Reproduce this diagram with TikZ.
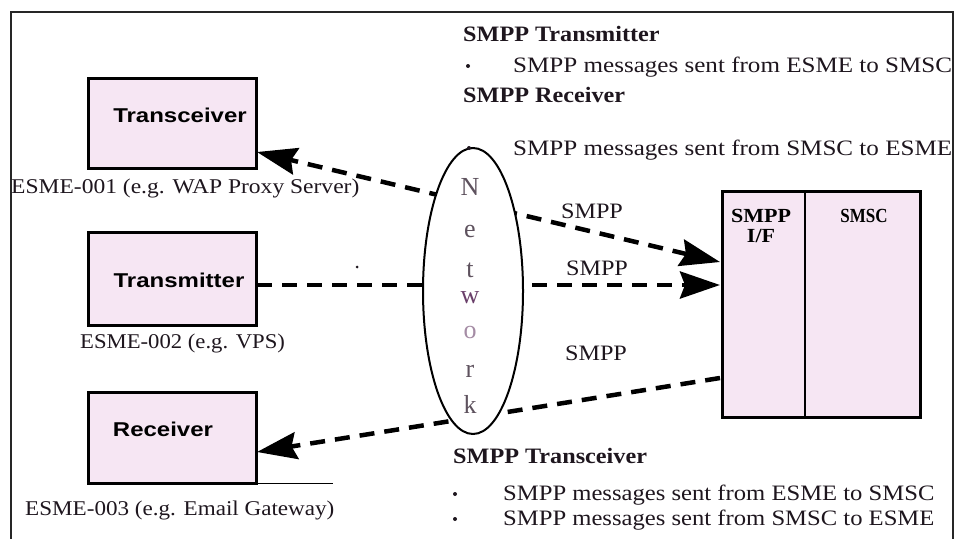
\documentclass[tikz,border=0pt]{standalone}
\usepackage{fontspec}
\setmainfont{Liberation Serif}
\newfontfamily\boxfont{Liberation Sans}
\usetikzlibrary{arrows.meta,shapes.geometric}

\definecolor{esmepink}{HTML}{F6E6F3}
\definecolor{inkdark}{HTML}{1E161E}
\definecolor{netgray}{HTML}{5E525E}
\definecolor{netpurple}{HTML}{6A3F6A}

% horizontal stretch for text
\newcommand\stretchx[2]{\scalebox{#1}[1]{#2}}

\begin{document}
\begin{tikzpicture}[x=1pt,y=-1pt,
  esme/.style={draw=black, line width=3pt, fill=esmepink, inner sep=0pt, outer sep=0pt, anchor=north west},
  boxlabel/.style={font=\boxfont\bfseries\fontsize{20}{24}\selectfont, inner sep=0pt, anchor=base},
  esmelabel/.style={font=\fontsize{21}{25}\selectfont, text=inkdark, inner sep=0pt, anchor=base west},
  head/.style={font=\bfseries\fontsize{22}{26}\selectfont, text=inkdark, inner sep=0pt, anchor=base west},
  msg/.style={font=\fontsize{22}{26}\selectfont, text=inkdark, inner sep=0pt, anchor=base west},
  proto/.style={font=\fontsize{22}{26}\selectfont, text=inkdark, inner sep=0pt, anchor=base},
  netletter/.style={font=\fontsize{26}{30}\selectfont, text=netgray, inner sep=0pt, anchor=base},
  smsclabel/.style={font=\bfseries\fontsize{20}{24}\selectfont, inner sep=0pt, anchor=base},
  bigtip/.tip={Stealth[length=40pt,width=27pt,inset=5pt]},
  link/.style={line width=4.5pt, dash pattern=on 15pt off 10pt},
  bulletdot/.style={fill=inkdark}
]
\path[use as bounding box] (0,0) rectangle (955,538);

% outer frame
\draw[line width=1.5pt, black!85] (11,540) -- (11,12) -- (953,12) -- (953,540);

% ESME boxes
\node[esme, minimum width=168pt, minimum height=90pt] (tc) at (88,78) {};
\node[esme, minimum width=168pt, minimum height=93pt] (tm) at (88,232) {};
\node[esme, minimum width=168pt, minimum height=91pt] (rc) at (88,392) {};
\coordinate (rcline) at (333,483);
\draw[line width=1pt] (rc.south east) -- (rc.south east -| rcline);

\node[boxlabel] (tct) at (180,122) {\stretchx{1.2}{Transceiver}};
\node[boxlabel] (tmt) at (179,287) {\stretchx{1.2}{Transmitter}};
\node[boxlabel] (rct) at (163,436) {\stretchx{1.2}{Receiver}};

\node[esmelabel] (e1) at (11,193) {\stretchx{1.12}{ESME-001 (e.g. WAP Proxy Server)}};
\node[esmelabel] (e2) at (80,348) {\stretchx{1.08}{ESME-002 (e.g. VPS)}};
\node[esmelabel] (e3) at (25,515) {\stretchx{1.1}{ESME-003 (e.g. Email Gateway)}};

% SMSC with its SMPP interface
\node[esme, minimum width=198pt, minimum height=226pt] (smsc) at (722,191) {};
\coordinate (divtop) at (805,191);
\coordinate (divbot) at (805,417);
\draw[line width=2pt] (divtop) -- (divbot);
\node[smsclabel] (ifa) at (761,222) {\stretchx{1.1}{SMPP}};
\node[smsclabel] (ifb) at (761,242) {\stretchx{1.1}{I/F}};
\node[smsclabel] (smsct) at (864,222) {\stretchx{0.85}{SMSC}};

% connection end points
\coordinate (tcA) at (257,152);
\coordinate (ifA) at (720,262);
\coordinate (tmB) at (257,285);
\coordinate (ifB) at (720,285);
\coordinate (ifC) at (720,378);
\coordinate (rcC) at (257,452);

% SMPP sessions
\draw[link, bigtip-bigtip] (ifA) -- (tcA);
\draw[link, -bigtip] (tmB) -- (ifB);
\draw[link, -bigtip] (ifC) -- (rcC);

% network cloud
\node[draw, ellipse, line width=2pt, fill=white, minimum width=100pt, minimum height=286pt, inner sep=0pt] (net) at (473,291) {};
\node[netletter] (n1) at (470,195) {N};
\node[netletter] (n2) at (470,237) {e};
\node[netletter] (n3) at (470,277) {t};
\node[netletter, text=netpurple] (n4) at (470,303) {w};
\node[netletter, text=netpurple!60] (n5) at (470,338) {o};
\node[netletter] (n6) at (470,377) {r};
\node[netletter] (n7) at (470,413) {k};

% protocol labels
\node[proto] (p1) at (592,218) {\stretchx{1.1}{SMPP}};
\node[proto] (p2) at (597,275) {\stretchx{1.1}{SMPP}};
\node[proto] (p3) at (596,360) {\stretchx{1.1}{SMPP}};

% bind type descriptions
\node[head] (h1) at (463,41) {\stretchx{1.1}{SMPP Transmitter}};
\fill[bulletdot] (468,66) circle (2pt);
\node[msg] (m1) at (513,72) {\stretchx{1.14}{SMPP messages sent from ESME to SMSC}};
\node[head] (h2) at (463,102) {\stretchx{1.1}{SMPP Receiver}};
\fill[bulletdot] (469,148) circle (2pt);
\node[msg] (m2) at (513,155) {\stretchx{1.14}{SMPP messages sent from SMSC to ESME}};
\node[head] (h3) at (453,463) {\stretchx{1.1}{SMPP Transceiver}};
\fill[bulletdot] (455,494) circle (2pt);
\node[msg] (m3) at (503,500) {\stretchx{1.12}{SMPP messages sent from ESME to SMSC}};
\fill[bulletdot] (455,519) circle (2pt);
\node[msg] (m4) at (503,525) {\stretchx{1.12}{SMPP messages sent from SMSC to ESME}};

\fill[inkdark] (357,267) circle (1.5pt);
\end{tikzpicture}
\end{document}
